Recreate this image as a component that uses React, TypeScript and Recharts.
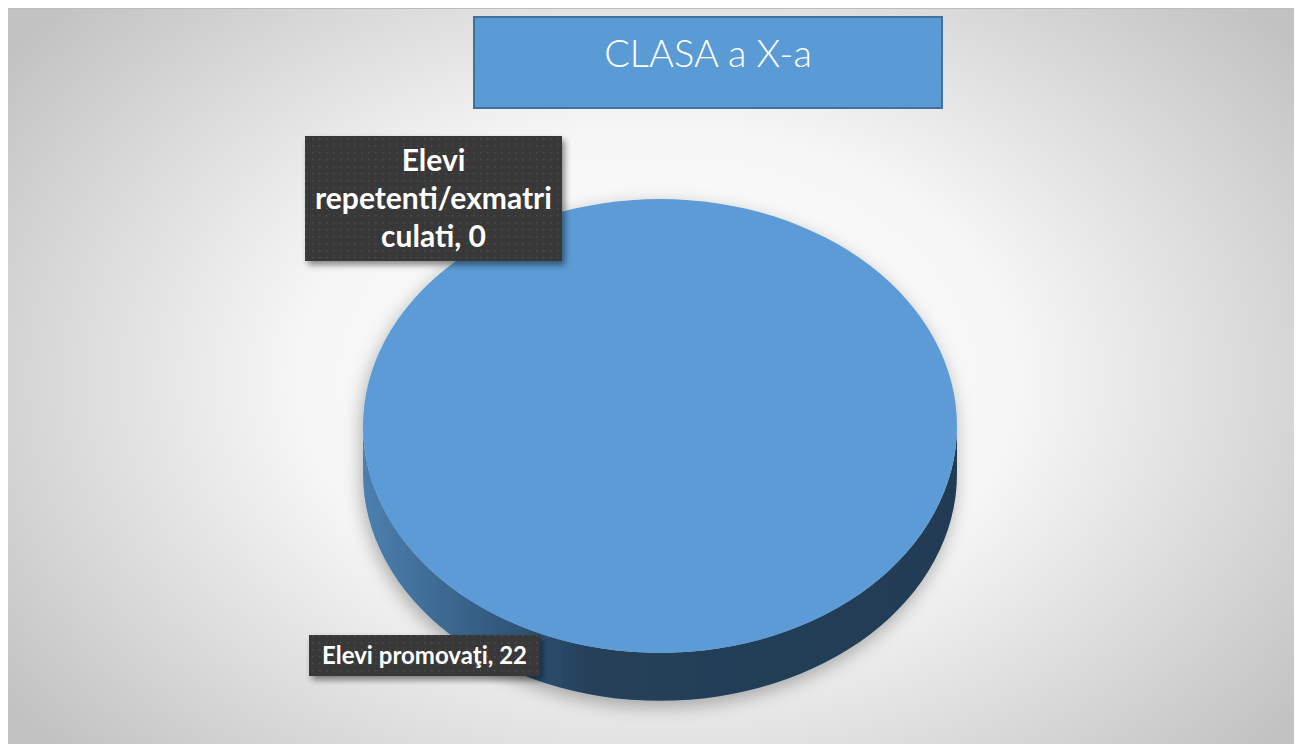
import { PieChart, Pie, Cell } from "recharts"

// chart values
const categories = ["Elevi promovaţi", "Elevi repetenti/exmatriculati"]
const values = [22, 0]
const title = "CLASA a X-a"

const data = categories.map((name, i) => ({ name, value: values[i] }))

const W = 1294
const H = 736
const TILT = 0.764 // vertical squash of the pie top
const DEPTH = 48 // thickness of the 3d side

// label boxes, per slice index (layout only)
const labelBoxes = [
  { x: 301, y: 626, w: 231, h: 41, fs: 24, lh: 38, maxChars: 40 },
  { x: 297, y: 127, w: 257, h: 125, fs: 30, lh: 38, maxChars: 17 },
]

function wrap(text: string, maxChars: number): string[] {
  const out: string[] = []
  let cur = ""
  for (const word of text.split(" ")) {
    let w = word
    const candidate = cur ? cur + " " + w : w
    if (candidate.length <= maxChars) {
      cur = candidate
      continue
    }
    if (cur) out.push(cur)
    cur = ""
    while (w.length > maxChars) {
      out.push(w.slice(0, maxChars))
      w = w.slice(maxChars)
    }
    cur = w
  }
  if (cur) out.push(cur)
  return out
}

function pt(cx: number, cy: number, r: number, deg: number) {
  const a = (-deg * Math.PI) / 180
  return [cx + r * Math.cos(a), cy + r * TILT * Math.sin(a)]
}

function Slice3D(props: any) {
  const { cx, cy, outerRadius: r, startAngle, endAngle, fill } = props
  const sweep = Math.abs(endAngle - startAngle)
  if (sweep < 0.01) return <g />
  const ry = r * TILT
  if (sweep >= 359.99) {
    const side =
      `M${cx - r},${cy} L${cx - r},${cy + DEPTH} ` +
      `A${r},${ry} 0 0 0 ${cx + r},${cy + DEPTH} L${cx + r},${cy} ` +
      `A${r},${ry} 0 0 1 ${cx - r},${cy} Z`
    return (
      <g filter="url(#pieShadow)">
        <path d={side} fill="url(#sideGrad)" />
        <ellipse cx={cx} cy={cy} rx={r} ry={ry} fill={fill} />
      </g>
    )
  }
  const [x1, y1] = pt(cx, cy, r, startAngle)
  const [x2, y2] = pt(cx, cy, r, endAngle)
  const large = sweep > 180 ? 1 : 0
  const sw = endAngle < startAngle ? 1 : 0
  return (
    <path
      d={`M${cx},${cy} L${x1},${y1} A${r},${ry} 0 ${large} ${sw} ${x2},${y2} Z`}
      fill={fill}
    />
  )
}

const renderLabel = (p: any) => {
  const box = labelBoxes[p.index]
  if (!box) return null
  const lines = wrap(`${p.name}, ${p.value}`, box.maxChars)
  const cxText = box.x + box.w / 2
  const firstBase = box.y + box.h / 2 - ((lines.length - 1) * box.lh) / 2 + box.fs * 0.36
  return (
    <g key={`lbl-${p.index}`}>
      <rect x={box.x} y={box.y} width={box.w} height={box.h} fill="url(#dots)" filter="url(#boxShadow)" />
      <text
        textAnchor="middle"
        fill="#ffffff"
        fontFamily="Lato, 'Open Sans', sans-serif"
        fontWeight={700}
        fontSize={box.fs}
      >
        {lines.map((l, i) => (
          <tspan key={i} x={cxText} y={firstBase + i * box.lh}>
            {l}
          </tspan>
        ))}
      </text>
    </g>
  )
}

export default function App() {
  return (
    <div
      style={{
        position: "relative",
        width: W,
        height: H,
        borderTop: "1px solid #bdbdbd",
        background:
          "radial-gradient(ellipse 800px 560px at 650px 370px, #ffffff 0%, #f6f6f6 45%, #c2c2c2 100%)",
      }}
    >
      <PieChart width={W} height={H} margin={{ top: 0, right: 0, bottom: 0, left: 0 }}>
        <defs>
          <linearGradient id="sideGrad" x1="0" y1="0" x2="1" y2="0">
            <stop offset="0%" stopColor="#4b80b0" />
            <stop offset="14%" stopColor="#3d6890" />
            <stop offset="28%" stopColor="#2c5172" />
            <stop offset="38%" stopColor="#25405a" />
            <stop offset="100%" stopColor="#223b53" />
          </linearGradient>
          <pattern id="dots" width="7" height="7" patternUnits="userSpaceOnUse">
            <rect width="7" height="7" fill="#383838" />
            <rect x="3" y="3" width="1.5" height="1.5" fill="#4e4e4e" />
          </pattern>
          <filter id="pieShadow" x="-20%" y="-20%" width="140%" height="140%">
            <feDropShadow dx="-2" dy="6" stdDeviation="9" floodColor="#000" floodOpacity="0.3" />
          </filter>
          <filter id="boxShadow" x="-20%" y="-20%" width="140%" height="140%">
            <feDropShadow dx="3" dy="4" stdDeviation="3" floodColor="#000" floodOpacity="0.45" />
          </filter>
        </defs>
        <rect x={466} y={8} width={468} height={91} fill="#5b9bd5" stroke="#41719c" strokeWidth={2} />
        <text
          x={700}
          y={58}
          textAnchor="middle"
          fill="#ffffff"
          fontFamily="Lato, 'Open Sans', sans-serif"
          fontWeight={300}
          fontSize={38}
        >
          {title}
        </text>
        <Pie
          data={data}
          dataKey="value"
          nameKey="name"
          cx={652}
          cy={417}
          outerRadius={297}
          startAngle={90}
          endAngle={-270}
          stroke="none"
          shape={Slice3D}
          label={renderLabel}
          labelLine={false}
          isAnimationActive={false}
        >
          {data.map((d, i) => (
            <Cell key={d.name} fill={i === 0 ? "#5b9bd5" : "#ed7d31"} />
          ))}
        </Pie>
      </PieChart>
    </div>
  )
}
